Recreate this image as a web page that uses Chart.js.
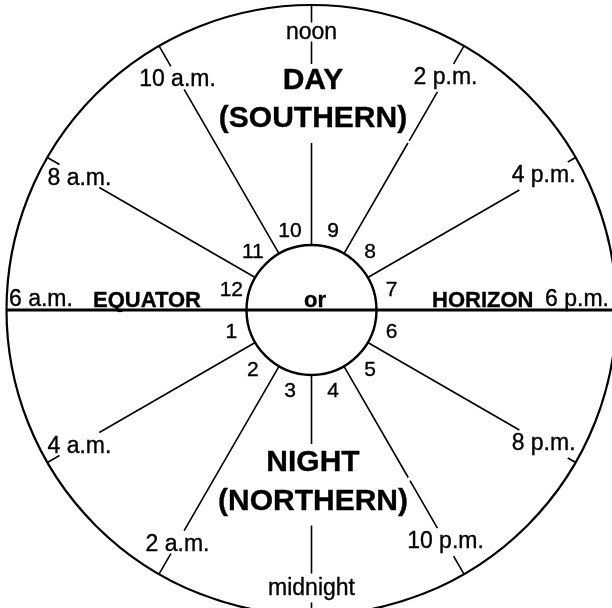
<!DOCTYPE html>
<html><head><meta charset="utf-8">
<script src="https://cdn.jsdelivr.net/npm/chart.js@4"></script>
<style>html,body{margin:0;padding:0;background:#fff;}#wrap{width:612px;height:608px;position:relative;}</style>
</head><body><div id="wrap"><canvas id="c"></canvas></div>
<script>
// ---- data ----
const hourLabels = ['noon','2 p.m.','4 p.m.','6 p.m.','8 p.m.','10 p.m.','midnight','2 a.m.','4 a.m.','6 a.m.','8 a.m.','10 a.m.'];
const hourAngles = [0,30,60,90,120,150,180,210,240,270,300,330];      // degrees clockwise from top
const sectorNumbers = ['9','8','7','6','5','4','3','2','1','12','11','10'];
const sectorAngles = [15,45,75,105,135,165,195,225,255,285,315,345];
const axisWords = ['EQUATOR','or','HORIZON'];
const dayTitle = ['DAY','(SOUTHERN)'];
const nightTitle = ['NIGHT','(NORTHERN)'];

// ---- geometry / style (1 data unit == 1 px) ----
const W = 612, H = 608, CX = 311.5, CY = 310;
const R_OUT = 305, R_IN = 65, R_LABEL = 268, R_LABEL_V = 278, R_NUM = 83;
const FAMILY = '"Liberation Sans", Arial, Helvetica, sans-serif';
const F_HOUR = '23px ' + FAMILY, F_NUM = '21px ' + FAMILY;
const F_TITLE = 'bold 30px ' + FAMILY, F_AXIS = 'bold 22px ' + FAMILY;
const INK = '#000';

const mctx = document.createElement('canvas').getContext('2d');
function measure(text, font){ mctx.font = font; const m = mctx.measureText(text);
  return {w:m.width, asc:m.actualBoundingBoxAscent, desc:m.actualBoundingBoxDescent}; }

// text items: box centre in data coords (y up)
const texts = [];
function addCentered(text, font, rx, ry, padX, padY){ // rx, ry: px offsets from centre (y down)
  const m = measure(text, font);
  texts.push({text, font, x:rx, y:-ry, w:m.w, asc:m.asc, desc:m.desc, padX, padY});
}
function addBaseline(text, font, leftPx, baselinePx, align){
  const m = measure(text, font);
  let cxp = align === 'left' ? leftPx + m.w/2 : align === 'right' ? leftPx - m.w/2 : leftPx;
  const cyp = baselinePx - (m.asc - m.desc)/2;
  texts.push({text, font, x:cxp - CX, y:-(cyp - CY), w:m.w, asc:m.asc, desc:m.desc, padX:0, padY:0});
}

hourAngles.forEach((a,i)=>{
  if (a === 90 || a === 270) return;
  const r = (a === 0 || a === 180) ? R_LABEL_V : R_LABEL;
  const t = a*Math.PI/180;
  addCentered(hourLabels[i], F_HOUR, Math.sin(t)*r, -Math.cos(t)*r, 3, 3);
});
sectorAngles.forEach((a,i)=>{
  const t = a*Math.PI/180;
  addCentered(sectorNumbers[i], F_NUM, Math.sin(t)*R_NUM, -Math.cos(t)*R_NUM, 1, 1);
});
addCentered(dayTitle[0], F_TITLE, 1.5, -231, 2, 5);
addCentered(dayTitle[1], F_TITLE, 1.5, -191, 2, 10);
addCentered(nightTitle[0], F_TITLE, 1.5, 151, 2, 7);
addCentered(nightTitle[1], F_TITLE, 1.5, 191.5, 2, 10);
addBaseline(hourLabels[9], F_HOUR, 9, 306, 'left');
addBaseline(axisWords[0], F_AXIS, 93, 307, 'left');
addBaseline(axisWords[1], F_AXIS, 315, 306.5, 'center');
addBaseline(axisWords[2], F_AXIS, 432, 307, 'left');
addBaseline(hourLabels[3], F_HOUR, 609, 306, 'right');

// ray / box intersection in data coords
function rayBox(dx, dy, b){
  const h = (b.asc + b.desc)/2;
  const lo = [b.x - b.w/2 - b.padX, b.y - h - b.padY], hi = [b.x + b.w/2 + b.padX, b.y + h + b.padY];
  const d = [dx, dy]; let t0 = -Infinity, t1 = Infinity;
  for (let k=0;k<2;k++){
    if (Math.abs(d[k]) < 1e-9){ if (0 < lo[k] || 0 > hi[k]) return [1,0]; }
    else { let a = lo[k]/d[k], c = hi[k]/d[k]; if (a > c) [a,c] = [c,a]; t0 = Math.max(t0,a); t1 = Math.min(t1,c); }
  }
  return [t0, t1];
}
function subtract(iv, a, b){
  const out = [];
  iv.forEach(([s,e])=>{
    if (b <= s || a >= e){ out.push([s,e]); return; }
    if (a > s) out.push([s,a]);
    if (b < e) out.push([b,e]);
  });
  return out;
}

const lineStyle = {showLine:true, pointRadius:0, pointHoverRadius:0, borderColor:INK, borderWidth:1.6, fill:false};
const datasets = [];
hourAngles.forEach(a=>{
  if (a === 90 || a === 270) return;
  const t = a*Math.PI/180, dx = Math.sin(t), dy = Math.cos(t); // data coords (y up)
  let iv = [[R_IN, R_OUT]];
  texts.forEach(b=>{ const [s,e] = rayBox(dx, dy, b); if (s < e) iv = subtract(iv, s, e); });
  iv.forEach(([s,e])=>{ if (e - s > 1) datasets.push(Object.assign({data:[{x:dx*s,y:dy*s},{x:dx*e,y:dy*e}]}, lineStyle)); });
});
// 6 a.m. – 6 p.m. horizon line
datasets.push(Object.assign({}, lineStyle, {borderWidth:3, data:[{x:-R_OUT,y:0},{x:W-CX+5,y:0}]}));

const clockPlugin = {
  id:'clock',
  beforeDatasetsDraw(chart){
    const ctx = chart.ctx, xs = chart.scales.x, ys = chart.scales.y;
    const px = xs.getPixelForValue(0), py = ys.getPixelForValue(0);
    const k = xs.getPixelForValue(1) - px;
    ctx.save(); ctx.strokeStyle = INK;
    ctx.lineWidth = 2.2; ctx.beginPath(); ctx.arc(px, py, R_OUT*k, 0, 2*Math.PI); ctx.stroke();
    ctx.lineWidth = 2.4; ctx.beginPath(); ctx.arc(px, py, R_IN*k, 0, 2*Math.PI); ctx.stroke();
    ctx.restore();
  },
  afterDatasetsDraw(chart){
    const ctx = chart.ctx, xs = chart.scales.x, ys = chart.scales.y;
    ctx.save(); ctx.fillStyle = INK; ctx.strokeStyle = INK; ctx.lineWidth = 0.35;
    ctx.textAlign = 'center'; ctx.textBaseline = 'alphabetic';
    texts.forEach(t=>{
      ctx.font = t.font;
      const x = xs.getPixelForValue(t.x), y = ys.getPixelForValue(t.y) + (t.asc - t.desc)/2;
      ctx.fillText(t.text, x, y);
      ctx.strokeText(t.text, x, y);
    });
    ctx.restore();
  }
};

new Chart(document.getElementById('c'), {
  type:'scatter',
  data:{datasets},
  options:{
    responsive:true, maintainAspectRatio:false, animation:false,
    layout:{padding:0},
    plugins:{legend:{display:false}, tooltip:{enabled:false}},
    scales:{
      x:{type:'linear', min:-CX, max:W-CX, display:false},
      y:{type:'linear', min:-(H-CY), max:CY, display:false}
    },
    events:[]
  },
  plugins:[clockPlugin]
});
</script>
</body></html>
